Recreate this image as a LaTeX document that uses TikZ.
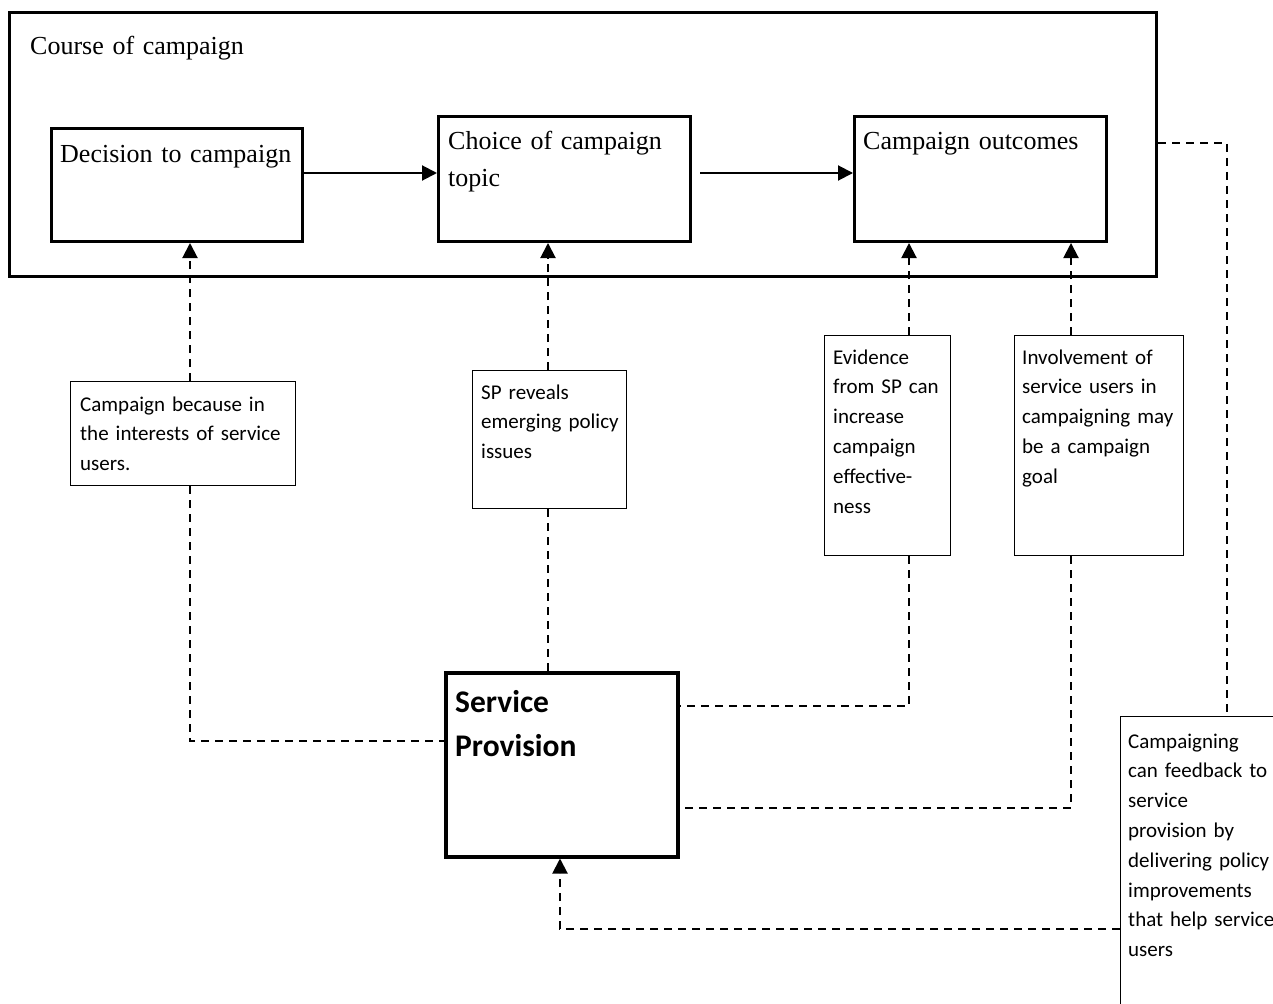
\documentclass[tikz,border=0pt]{standalone}
\usepackage{fontspec}
\setmainfont{Liberation Serif}
\newfontfamily\calib{Carlito}
\usetikzlibrary{arrows.meta}

\begin{document}
\begin{tikzpicture}[x=1pt,y=-1pt,
  frame/.style={draw, line width=3pt, inner sep=0pt, anchor=north west},
  notebox/.style={draw, line width=1.1pt, inner sep=0pt, anchor=north west},
  serif/.style={font=\fontsize{26}{36}\selectfont, inner sep=0pt, anchor=base west, align=left, text width=#1},
  serif/.default=240pt,
  small/.style={font=\calib\fontsize{21}{29.8}\selectfont, inner sep=0pt, anchor=base west, align=left, text width=#1},
  tip/.style={-{Triangle[length=15pt,width=15pt]}},
  flow/.style={line width=2pt, tip},
  link/.style={line width=2pt, dash pattern=on 8pt off 6pt},
  linkto/.style={link, tip}
]
\useasboundingbox (0,0) rectangle (1273,1003);

% outer frame for the course of the campaign
\node[frame, minimum width=1147pt, minimum height=264pt] (course) at (8,11) {};
\node[serif] (coursetxt) at (30,55) {Course of campaign};

% the three stages
\node[frame, minimum width=251pt, minimum height=113pt] (dec) at (50,127) {};
\node[serif] (dectxt) at (60,163) {Decision to campaign};
\node[frame, minimum width=252pt, minimum height=125pt] (choice) at (437,115) {};
\node[serif] (choicetxt) at (448,150) {Choice of campaign\\topic};
\node[frame, minimum width=252pt, minimum height=125pt] (out) at (853,115) {};
\node[serif] (outtxt) at (863,150) {Campaign outcomes};

\draw[flow] (dec.east |- 0,173) -- (choice.west |- 0,173);
\draw[flow, shorten <=8pt] (choice.east |- 0,173) -- (out.west |- 0,173);

% service provision
\node[frame, line width=3.5pt, minimum width=232pt, minimum height=184pt] (sp) at (444,671) {};
\node[font=\calib\bfseries\fontsize{31.5}{44}\selectfont, inner sep=0pt, anchor=base west, align=left, text width=200pt] (sptxt) at (455,712) {Service\\Provision};

% explanatory notes
\node[notebox, minimum width=225pt, minimum height=104pt] (cb) at (70,381) {};
\node[small=215pt] (cbtxt) at (80,411) {Campaign because in\\the interests of service\\users.};

\node[notebox, minimum width=154pt, minimum height=138pt] (rev) at (472,370) {};
\node[small=145pt] (revtxt) at (481,399) {SP reveals\\emerging policy\\issues};

\node[notebox, minimum width=126pt, minimum height=220pt] (ev) at (824,335) {};
\node[small=120pt] (evtxt) at (833,364) {Evidence\\from SP can\\increase\\campaign\\effective-\\ness};

\node[notebox, minimum width=169pt, minimum height=220pt] (inv) at (1014,335) {};
\node[small=165pt] (invtxt) at (1022,364) {Involvement of\\service users in\\campaigning may\\be a campaign\\goal};

\begin{scope}
  \clip (0,0) rectangle (1273,1003);
  \node[notebox, minimum width=200pt, minimum height=320pt] (fb) at (1120,716) {};
\end{scope}
\node[small=150pt] (fbtxt) at (1128,748) {Campaigning\\can feedback to\\service\\provision by\\delivering policy\\improvements\\that help service\\users};

% dashed links from service provision to the campaign stages
\draw[linkto] (190,0 |- cb.north) -- (190,0 |- dec.south);
\draw[link] (190,0 |- cb.south) |- (sp.west |- 0,741);

\draw[linkto] (548,0 |- rev.north) -- (548,0 |- choice.south);
\draw[link] (548,0 |- rev.south) -- (548,0 |- sp.north);

\draw[linkto] (909,0 |- ev.north) -- (909,0 |- out.south);
\draw[link] (909,0 |- ev.south) |- (sp.east |- 0,706);

\draw[linkto] (1071,0 |- inv.north) -- (1071,0 |- out.south);
\draw[link] (1071,0 |- inv.south) |- (sp.east |- 0,808);

% feedback from the campaign to service provision
\draw[link] (course.east |- 0,143) -| (1227,0 |- fb.north);
\draw[linkto] (fb.west |- 0,929) -| (560,0 |- sp.south);
\end{tikzpicture}
\end{document}
